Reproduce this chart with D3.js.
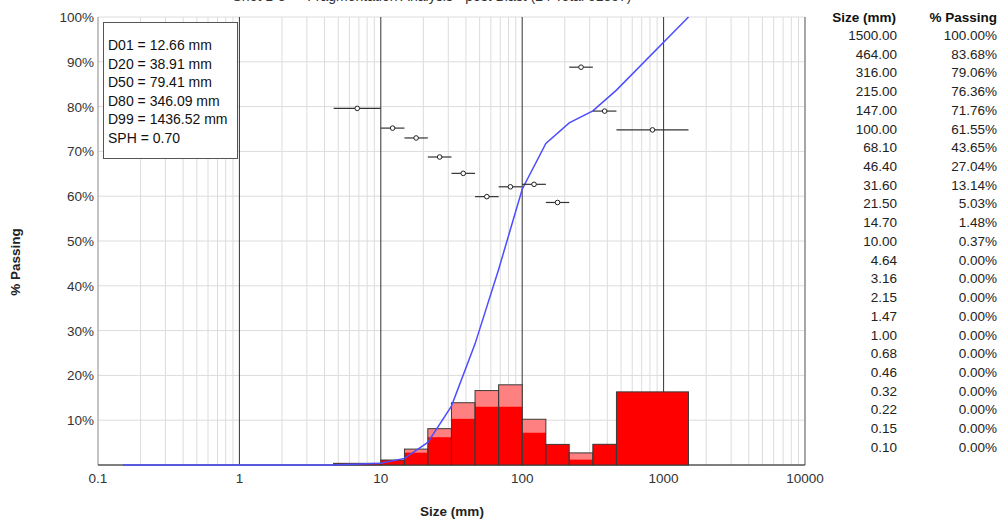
<!DOCTYPE html>
<html lang="en">
  <head>
    <meta charset="UTF-8">
    <script src="https://cdn.jsdelivr.net/npm/d3@7"></script>
    <style>
      body { margin: 0; background: #fff; }
      text { font-family: 'Liberation Sans', Arial, sans-serif; }
    </style>
    <title>Size distribution</title>
  </head>
  <body>
    <script>
      // Cumulative size distribution (log x), bin bars + per-bin points

      let w = 999;
      let h = 519;

      // size table (mm) and % passing, as listed on the right
      let sizes = [1500, 464, 316, 215, 147, 100, 68.1, 46.4, 31.6, 21.5, 14.7, 10,
                   4.64, 3.16, 2.15, 1.47, 1, 0.68, 0.46, 0.32, 0.22, 0.15, 0.10];
      let passing = [100, 83.68, 79.06, 76.36, 71.76, 61.55, 43.65, 27.04, 13.14, 5.03,
                     1.48, 0.37, 0, 0, 0, 0, 0, 0, 0, 0, 0, 0, 0];

      // bins for the bars and the point markers
      let binLo = [4.64, 10, 14.7, 21.5, 31.6, 46.4, 68.1, 100, 147, 215, 316, 464];
      let binHi = [10, 14.7, 21.5, 31.6, 46.4, 68.1, 100, 147, 215, 316, 464, 1500];
      let binTotal = [0.37, 1.11, 3.55, 8.11, 13.9, 16.61, 17.9, 10.21, 4.6, 2.7, 4.62, 16.32];
      let binDark  = [0.37, 1.11, 2.75, 6.2, 10.3, 13.0, 13.0, 7.2, 4.6, 1.2, 4.62, 16.32];
      let pointVals = [79.6, 75.2, 73.0, 68.75, 65.1, 59.9, 62.1, 62.65, 58.6, 88.8, 79.0, 74.8];

      let stats = ['D01 = 12.66 mm', 'D20 = 38.91 mm', 'D50 = 79.41 mm',
                   'D80 = 346.09 mm', 'D99 = 1436.52 mm', 'SPH = 0.70'];

      let xTicks = [0.1, 1, 10, 100, 1000, 10000];
      let yTicks = [10, 20, 30, 40, 50, 60, 70, 80, 90, 100];

      let xScale = d3.scaleLog().domain([0.1, 10000]).range([98, 805]);
      let yScale = d3.scaleLinear().domain([0, 100]).range([465, 17]);

      let svg = d3.select('body')
                  .append('svg')
                  .attr('width', w)
                  .attr('height', h);

      // title, mostly above the visible area as in the source image
      svg.append('text')
          .attr('x', 432)
          .attr('y', 1)
          .attr('text-anchor', 'middle')
          .attr('font-size', '14px')
          .attr('fill', '#333')
          .text('Shot 1-3  —  Fragmentation Analysis - post Blast (24 Total 51857)');

      // minor vertical grid
      let minor = [];
      for (let e = -1; e < 4; e++) {
        for (let k = 2; k < 10; k++) minor.push(k * Math.pow(10, e));
      }
      svg.selectAll('line.minor')
          .data(minor)
          .enter()
          .append('line')
          .attr('class', 'minor')
          .attr('x1', d => xScale(d))
          .attr('x2', d => xScale(d))
          .attr('y1', yScale(100))
          .attr('y2', yScale(0))
          .attr('stroke', '#dcdcdc')
          .attr('stroke-width', 1);

      // horizontal grid
      svg.selectAll('line.hgrid')
          .data(yTicks)
          .enter()
          .append('line')
          .attr('class', 'hgrid')
          .attr('x1', xScale(0.1))
          .attr('x2', xScale(10000))
          .attr('y1', d => yScale(d))
          .attr('y2', d => yScale(d))
          .attr('stroke', '#dcdcdc')
          .attr('stroke-width', 1);

      // decade lines
      svg.selectAll('line.major')
          .data([1, 10, 100, 1000])
          .enter()
          .append('line')
          .attr('class', 'major')
          .attr('x1', d => xScale(d))
          .attr('x2', d => xScale(d))
          .attr('y1', yScale(100))
          .attr('y2', yScale(0))
          .attr('stroke', '#333')
          .attr('stroke-width', 1);

      // frame
      svg.append('line')
          .attr('x1', xScale(0.1)).attr('x2', xScale(0.1))
          .attr('y1', yScale(100)).attr('y2', yScale(0))
          .attr('stroke', '#8a8a8a');
      svg.append('line')
          .attr('x1', xScale(10000)).attr('x2', xScale(10000))
          .attr('y1', yScale(100)).attr('y2', yScale(0))
          .attr('stroke', '#8a8a8a').attr('stroke-width', 1.5);
      svg.append('line')
          .attr('x1', xScale(0.1)).attr('x2', xScale(10000))
          .attr('y1', yScale(0)).attr('y2', yScale(0))
          .attr('stroke', '#555').attr('stroke-width', 1.5);

      // bars: total (light), retained part (dark), outline
      let bins = binLo.map((lo, i) => ({lo: lo, hi: binHi[i], t: binTotal[i], d: binDark[i]}));

      svg.selectAll('rect.total')
          .data(bins)
          .enter()
          .append('rect')
          .attr('x', d => xScale(d.lo))
          .attr('y', d => yScale(d.t))
          .attr('width', d => xScale(d.hi) - xScale(d.lo))
          .attr('height', d => yScale(0) - yScale(d.t))
          .attr('fill', '#ff8080');

      svg.selectAll('rect.dark')
          .data(bins)
          .enter()
          .append('rect')
          .attr('x', d => xScale(d.lo))
          .attr('y', d => yScale(d.d))
          .attr('width', d => xScale(d.hi) - xScale(d.lo))
          .attr('height', d => yScale(0) - yScale(d.d))
          .attr('fill', '#ff0000');

      svg.selectAll('rect.outline')
          .data(bins)
          .enter()
          .append('rect')
          .attr('x', d => xScale(d.lo))
          .attr('y', d => yScale(d.t))
          .attr('width', d => xScale(d.hi) - xScale(d.lo))
          .attr('height', d => yScale(0) - yScale(d.t))
          .attr('fill', 'none')
          .attr('stroke', '#3a3a3a')
          .attr('stroke-width', 1);

      // cumulative curve (drawn from 0.15 mm up)
      let curve = sizes.map((s, i) => ({s: s, p: passing[i]}))
                       .filter(d => d.s >= 0.15)
                       .reverse();
      svg.append('path')
          .datum(curve)
          .attr('d', d3.line().x(d => xScale(d.s)).y(d => yScale(d.p)))
          .attr('fill', 'none')
          .attr('stroke', '#4d4dff')
          .attr('stroke-width', 1.5);

      // per-bin points with horizontal range bars
      let pts = bins.map((b, i) => ({lo: b.lo, hi: b.hi, v: pointVals[i]}));
      svg.selectAll('line.range')
          .data(pts)
          .enter()
          .append('line')
          .attr('x1', d => xScale(d.lo))
          .attr('x2', d => xScale(d.hi))
          .attr('y1', d => yScale(d.v))
          .attr('y2', d => yScale(d.v))
          .attr('stroke', '#333')
          .attr('stroke-width', 1.2);
      svg.selectAll('circle.pt')
          .data(pts)
          .enter()
          .append('circle')
          .attr('cx', d => xScale(Math.sqrt(d.lo * d.hi)))
          .attr('cy', d => yScale(d.v))
          .attr('r', 2.3)
          .attr('fill', '#fff')
          .attr('stroke', '#222')
          .attr('stroke-width', 1);

      // axis labels
      svg.selectAll('text.ytick')
          .data(yTicks)
          .enter()
          .append('text')
          .attr('x', 94)
          .attr('y', d => yScale(d) + 5)
          .attr('text-anchor', 'end')
          .attr('font-size', '13.5px')
          .attr('fill', '#333')
          .text(d => d + '%');

      svg.selectAll('text.xtick')
          .data(xTicks)
          .enter()
          .append('text')
          .attr('x', d => xScale(d))
          .attr('y', 483)
          .attr('text-anchor', 'middle')
          .attr('font-size', '13.5px')
          .attr('fill', '#333')
          .text(d => d);

      svg.append('text')
          .attr('x', 452)
          .attr('y', 516)
          .attr('text-anchor', 'middle')
          .attr('font-size', '13.5px')
          .attr('font-weight', 'bold')
          .attr('fill', '#222')
          .text('Size (mm)');

      svg.append('text')
          .attr('transform', 'translate(20,262) rotate(-90)')
          .attr('text-anchor', 'middle')
          .attr('font-size', '13.5px')
          .attr('font-weight', 'bold')
          .attr('fill', '#222')
          .text('% Passing');

      // stats box
      svg.append('rect')
          .attr('x', 103.5)
          .attr('y', 22.5)
          .attr('width', 134)
          .attr('height', 136)
          .attr('fill', '#fff')
          .attr('stroke', '#555')
          .attr('stroke-width', 1);
      svg.selectAll('text.stat')
          .data(stats)
          .enter()
          .append('text')
          .attr('x', 108)
          .attr('y', (d, i) => 50 + i * 18.6)
          .attr('font-size', '14px')
          .attr('fill', '#111')
          .text(d => d);

      // size table
      svg.append('text')
          .attr('x', 896).attr('y', 22)
          .attr('text-anchor', 'end')
          .attr('font-size', '13.5px').attr('font-weight', 'bold')
          .attr('fill', '#111')
          .text('Size (mm)');
      svg.append('text')
          .attr('x', 997).attr('y', 22)
          .attr('text-anchor', 'end')
          .attr('font-size', '13.5px').attr('font-weight', 'bold')
          .attr('fill', '#111')
          .text('% Passing');

      svg.selectAll('text.tsize')
          .data(sizes)
          .enter()
          .append('text')
          .attr('x', 897)
          .attr('y', (d, i) => 40 + i * 18.72)
          .attr('text-anchor', 'end')
          .attr('font-size', '13.5px')
          .attr('fill', '#222')
          .text(d => d.toFixed(2));

      svg.selectAll('text.tpass')
          .data(passing)
          .enter()
          .append('text')
          .attr('x', 997)
          .attr('y', (d, i) => 40 + i * 18.72)
          .attr('text-anchor', 'end')
          .attr('font-size', '13.5px')
          .attr('fill', '#222')
          .text(d => d.toFixed(2) + '%');
    </script>
  </body>
</html>
